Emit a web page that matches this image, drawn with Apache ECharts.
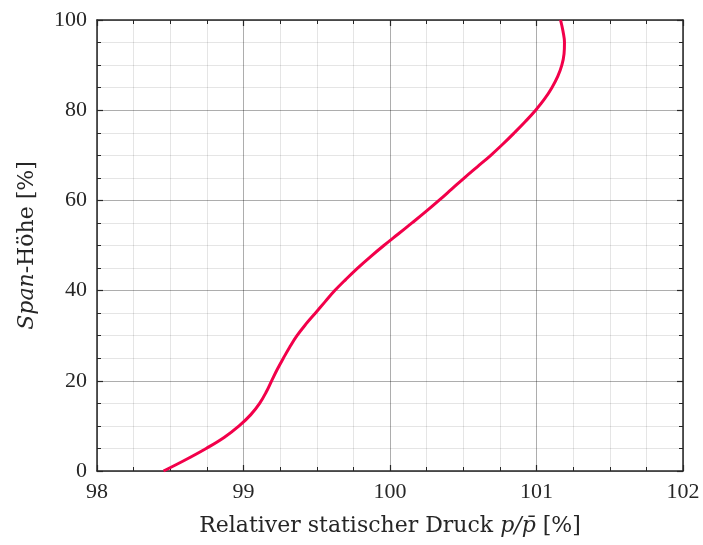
<!DOCTYPE html>
<html>
<head>
<meta charset="utf-8">
<script src="https://cdn.jsdelivr.net/npm/echarts@6/dist/echarts.min.js"></script>
<style>
  html, body { margin: 0; padding: 0; background: #fff; }
  #chart { width: 703px; height: 545px; }
</style>
</head>
<body>
<div id="chart"></div>
<script>
// Radial profile of relative static pressure over span height
const spanHeight = [0, 2.5, 5, 7.5, 10, 12.5, 15, 17.5, 20, 22.5, 25, 27.5, 30, 32.5, 35, 37.5,
  40, 42.5, 45, 47.5, 50, 52.5, 55, 57.5, 60, 62.5, 65, 67.5, 70, 72.5, 75, 77.5,
  80, 82.5, 85, 87.5, 90, 92.5, 95, 97.5, 100];
const relPressure = [98.454, 98.605, 98.745, 98.87, 98.97, 99.05, 99.11, 99.155, 99.192, 99.23, 99.272, 99.316, 99.365, 99.424, 99.49, 99.556,
  99.623, 99.699, 99.779, 99.866, 99.958, 100.054, 100.15, 100.244, 100.334, 100.421, 100.508, 100.598, 100.688, 100.771, 100.849, 100.924,
  100.994, 101.055, 101.105, 101.145, 101.173, 101.188, 101.191, 101.181, 101.164];

const xTicks = [98, 99, 100, 101, 102];
const yTicks = [0, 20, 40, 60, 80, 100];

const points = spanHeight.map((h, i) => [relPressure[i], h]);

const FONT = '"Liberation Serif", "DejaVu Serif", serif';
const TITLE_FONT = '"DejaVu Serif", "Liberation Serif", serif';
const INK = '#262626';

const baseAxis = {
  axisLine: { show: true, onZero: false, lineStyle: { color: INK, width: 1.5 } },
  axisTick: { show: true, inside: true, length: 6, lineStyle: { color: INK, width: 1.2 } },
  minorTick: { show: true, splitNumber: 4, length: 4, lineStyle: { color: INK, width: 1 } },
  splitLine: { show: true, lineStyle: { color: 'rgba(0,0,0,0.32)', width: 1 } },
  minorSplitLine: { show: true, lineStyle: { color: 'rgba(0,0,0,0.10)', width: 1 } },
  axisLabel: { color: INK, fontFamily: FONT, fontSize: 22 }
};

const titleRich = {
  n: { fontFamily: TITLE_FONT, fontSize: 22, color: INK },
  i: { fontFamily: TITLE_FONT, fontSize: 22, color: INK, fontStyle: 'italic' }
};

const chart = echarts.init(document.getElementById('chart'), null, { renderer: 'canvas' });
chart.setOption({
  animation: false,
  backgroundColor: '#fff',
  grid: { left: 97, right: 20, top: 20, bottom: 74, containLabel: false },
  xAxis: [
    Object.assign({}, baseAxis, {
      type: 'value', position: 'bottom',
      min: xTicks[0], max: xTicks[xTicks.length - 1], interval: 1,
      axisLabel: Object.assign({}, baseAxis.axisLabel, { margin: 10 }),
      name: '{n|Relativer statischer Druck }{i|p/p\u0304}{n| [%]}',
      nameLocation: 'middle', nameGap: 44,
      nameTextStyle: { rich: titleRich }
    }),
    Object.assign({}, baseAxis, {
      type: 'value', position: 'top',
      min: xTicks[0], max: xTicks[xTicks.length - 1], interval: 1,
      axisLabel: { show: false }, splitLine: { show: false }, minorSplitLine: { show: false }
    })
  ],
  yAxis: [
    Object.assign({}, baseAxis, {
      type: 'value', position: 'left',
      min: yTicks[0], max: yTicks[yTicks.length - 1], interval: 20,
      axisLabel: Object.assign({}, baseAxis.axisLabel, { margin: 10 }),
      name: '{i|Span}{n|-Höhe [%]}',
      nameLocation: 'middle', nameGap: 59, nameRotate: 90,
      nameTextStyle: { rich: titleRich }
    }),
    Object.assign({}, baseAxis, {
      type: 'value', position: 'right',
      min: yTicks[0], max: yTicks[yTicks.length - 1], interval: 20,
      axisLabel: { show: false }, splitLine: { show: false }, minorSplitLine: { show: false }
    })
  ],
  series: [{
    type: 'line',
    xAxisIndex: 0, yAxisIndex: 0,
    data: points,
    smooth: 0.4,
    showSymbol: false,
    lineStyle: { color: '#f2004a', width: 3 }
  }]
});
</script>
</body>
</html>
